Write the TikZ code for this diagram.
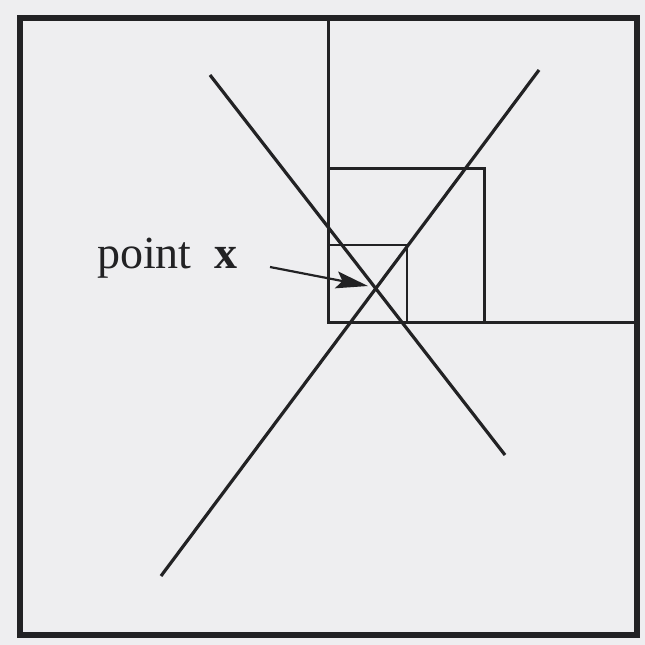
\documentclass[tikz,border=0pt]{standalone}
\usepackage{fontspec}
\setmainfont{Liberation Serif}
\usetikzlibrary{arrows.meta}
\definecolor{paper}{RGB}{238,238,240}
\definecolor{ink}{RGB}{34,34,36}
\begin{document}
\begin{tikzpicture}[x=1pt,y=-1pt,
  frame/.style={draw=ink,line width=6pt,line join=miter},
  grid/.style={draw=ink,line width=3pt},
  fine/.style={draw=ink,line width=2.6pt},
  diag/.style={draw=ink,line width=3.2pt},
  pointer/.style={draw=ink,line width=2.2pt,-{Stealth[length=32pt,width=17pt,inset=6pt]}},
  lbl/.style={text=ink,font=\fontsize{46}{52}\selectfont,inner sep=0pt,anchor=base west}]
\fill[paper] (0,0) rectangle (645,645);
\useasboundingbox (0,0) rectangle (645,645);
% outer frame
\draw[frame] (20,18) rectangle (637,635);
% quadrant lines
\coordinate (vt) at (328,18);
\coordinate (c) at (328,322);
\coordinate (hr) at (637,322);
\draw[grid] (vt) -- (c) -- (hr);
% middle square
\draw[grid] (328,168) -- (484,168) -- (484,322);
% small square
\draw[fine] (328,245) -- (407,245) -- (407,322);
% diagonals
\coordinate (d1a) at (210,75);
\coordinate (d1b) at (505,455);
\coordinate (d2a) at (539,70);
\coordinate (d2b) at (161,576);
\draw[diag] (d1a) -- (d1b);
\draw[diag] (d2a) -- (d2b);
% label and arrow
\node[lbl] (label) at (97,268) {point\ \ \textbf{x}};
\coordinate (astart) at (270,267);
\coordinate (aend) at (368,286);
\draw[pointer] (astart) -- (aend);
\end{tikzpicture}
\end{document}
